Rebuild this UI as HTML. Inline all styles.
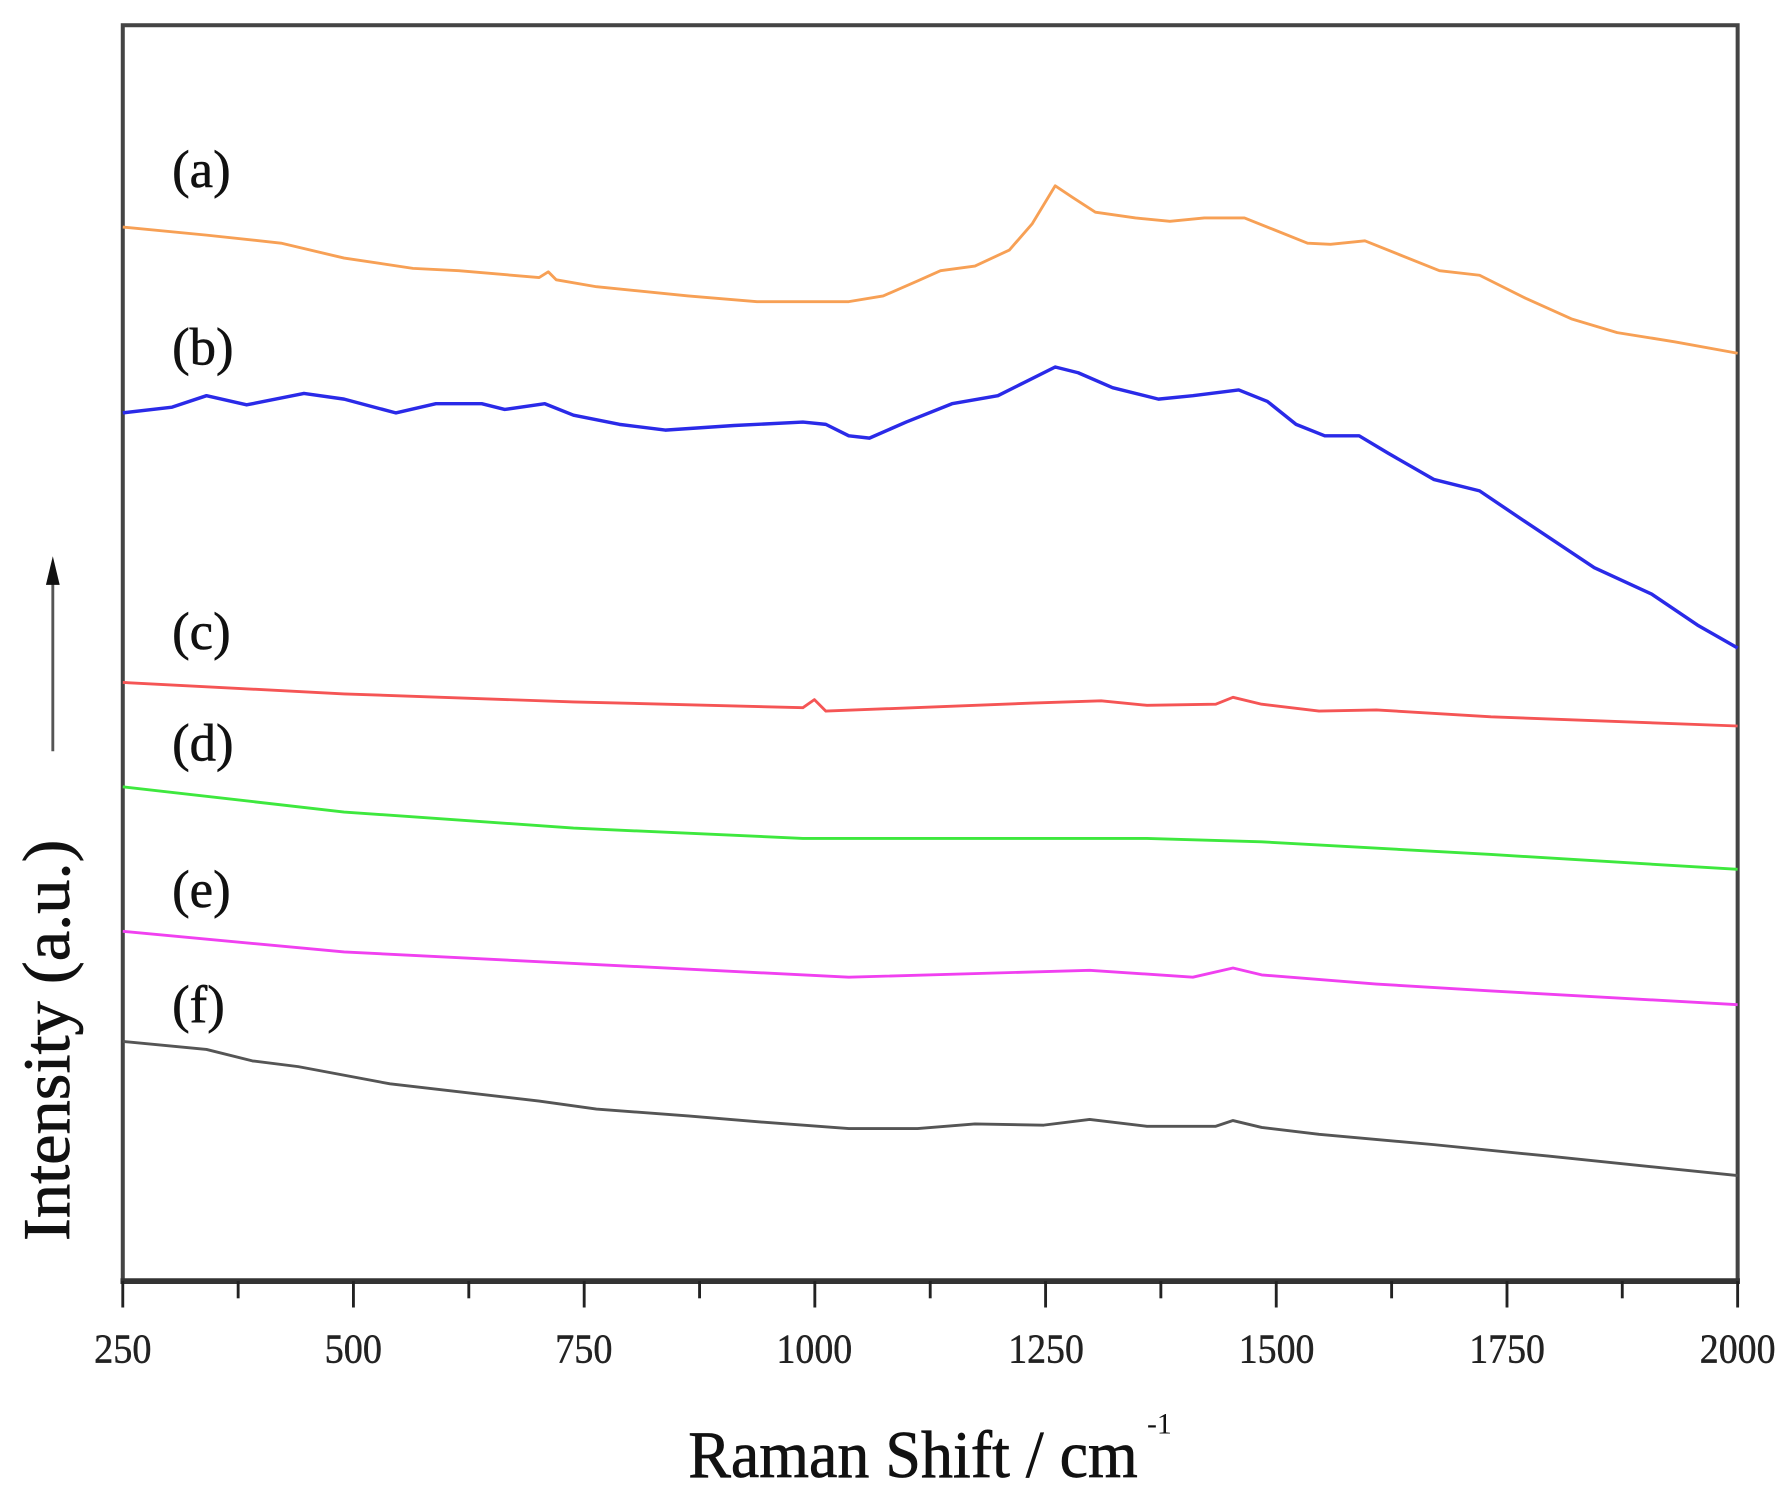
<!DOCTYPE html>
<html><head><meta charset="utf-8"><style>html,body{margin:0;padding:0;background:#fff}svg{display:block}</style></head>
<body>
<svg width="1790" height="1491" viewBox="0 0 1560.6 1300" xmlns="http://www.w3.org/2000/svg" font-family="'Liberation Serif', serif">
<rect width="1560.6" height="1300" fill="#fff"/>
<rect x="107" y="22" width="1408" height="1095" fill="none" stroke="#444" stroke-width="3.5"/>
<line x1="105" y1="1117" x2="1517" y2="1117" stroke="#333" stroke-width="5"/>
<g stroke="#222" stroke-width="2.5">
<line x1="107" y1="1117" x2="107" y2="1140"/><line x1="207.6" y1="1117" x2="207.6" y2="1132"/>
<line x1="308.1" y1="1117" x2="308.1" y2="1140"/><line x1="408.7" y1="1117" x2="408.7" y2="1132"/>
<line x1="509.3" y1="1117" x2="509.3" y2="1140"/><line x1="609.9" y1="1117" x2="609.9" y2="1132"/>
<line x1="710.4" y1="1117" x2="710.4" y2="1140"/><line x1="811" y1="1117" x2="811" y2="1132"/>
<line x1="911.6" y1="1117" x2="911.6" y2="1140"/><line x1="1012.1" y1="1117" x2="1012.1" y2="1132"/>
<line x1="1112.7" y1="1117" x2="1112.7" y2="1140"/><line x1="1213.3" y1="1117" x2="1213.3" y2="1132"/>
<line x1="1313.9" y1="1117" x2="1313.9" y2="1140"/><line x1="1414.4" y1="1117" x2="1414.4" y2="1132"/>
<line x1="1515" y1="1117" x2="1515" y2="1140"/>
</g>
<g font-size="36" fill="#222" text-anchor="middle" stroke="#222" stroke-width="0.4">
<text x="107" y="1188" textLength="50" lengthAdjust="spacingAndGlyphs">250</text>
<text x="308" y="1188" textLength="50" lengthAdjust="spacingAndGlyphs">500</text>
<text x="509" y="1188" textLength="50" lengthAdjust="spacingAndGlyphs">750</text>
<text x="710" y="1188" textLength="66" lengthAdjust="spacingAndGlyphs">1000</text>
<text x="912" y="1188" textLength="66" lengthAdjust="spacingAndGlyphs">1250</text>
<text x="1113" y="1188" textLength="66" lengthAdjust="spacingAndGlyphs">1500</text>
<text x="1314" y="1188" textLength="66" lengthAdjust="spacingAndGlyphs">1750</text>
<text x="1515" y="1188" textLength="66" lengthAdjust="spacingAndGlyphs">2000</text>
</g>
<text x="600" y="1288" font-size="58" fill="#111" stroke="#111" stroke-width="0.6" textLength="392" lengthAdjust="spacingAndGlyphs">Raman Shift / cm</text>
<text x="1000" y="1250" font-size="26" fill="#111">-1</text>
<text transform="translate(60,1082) rotate(-90)" font-size="58" fill="#111" stroke="#111" stroke-width="0.6" textLength="350" lengthAdjust="spacingAndGlyphs">Intensity (a.u.)</text>
<line x1="46" y1="655" x2="46" y2="505" stroke="#555" stroke-width="2.5"/>
<polygon points="46,485 40,510 52,510" fill="#111"/>
<g font-size="46" fill="#111" stroke="#111" stroke-width="0.5">
<text x="150" y="163">(a)</text><text x="150" y="318">(b)</text><text x="150" y="566">(c)</text>
<text x="150" y="663">(d)</text><text x="150" y="791">(e)</text><text x="150" y="891">(f)</text>
</g>
<g fill="none" stroke-width="2.5" stroke-linejoin="round">
<polyline stroke="#f7a055" points="107,198 180,205 245,212 300,225 360,234 400,236 470,242 478,237 485,244 520,250 600,258 660,263 740,263 770,258 800,245 820,236 850,232 880,218 900,195 920,162 935,172 955,185 990,190 1020,193 1050,190 1085,190 1110,200 1140,212 1160,213 1190,210 1220,222 1255,236 1290,240 1330,260 1370,278 1410,290 1460,298 1515,308"/>
<polyline stroke="#2a2ae8" stroke-width="3" points="107,360 150,355 180,345 215,353 265,343 300,348 345,360 380,352 420,352 440,357 475,352 500,362 540,370 580,375 640,371 700,368 720,370 740,380 758,382 790,368 830,352 870,345 890,335 920,320 940,325 970,338 1010,348 1040,345 1080,340 1105,350 1130,370 1155,380 1185,380 1210,395 1250,418 1290,428 1330,455 1390,495 1440,518 1480,545 1515,565"/>
<polyline stroke="#f55555" points="107,595 300,605 500,612 700,617 710,610 720,620 900,613 960,611 1000,615 1060,614 1075,608 1100,614 1150,620 1200,619 1300,625 1515,633"/>
<polyline stroke="#3ee83e" points="107,686 300,708 500,722 700,731 1000,731 1100,734 1300,745 1515,758"/>
<polyline stroke="#f040f0" points="107,812 300,830 500,840 740,852 950,846 1040,852 1075,844 1100,850 1200,858 1300,864 1515,876"/>
<polyline stroke="#555" points="107,908 180,915 220,925 260,930 340,945 470,960 520,967 600,973 660,978 740,984 800,984 850,980 910,981 950,976 1000,982 1060,982 1075,977 1100,983 1150,989 1250,998 1350,1008 1515,1025"/>
</g>
</svg>
</body></html>
